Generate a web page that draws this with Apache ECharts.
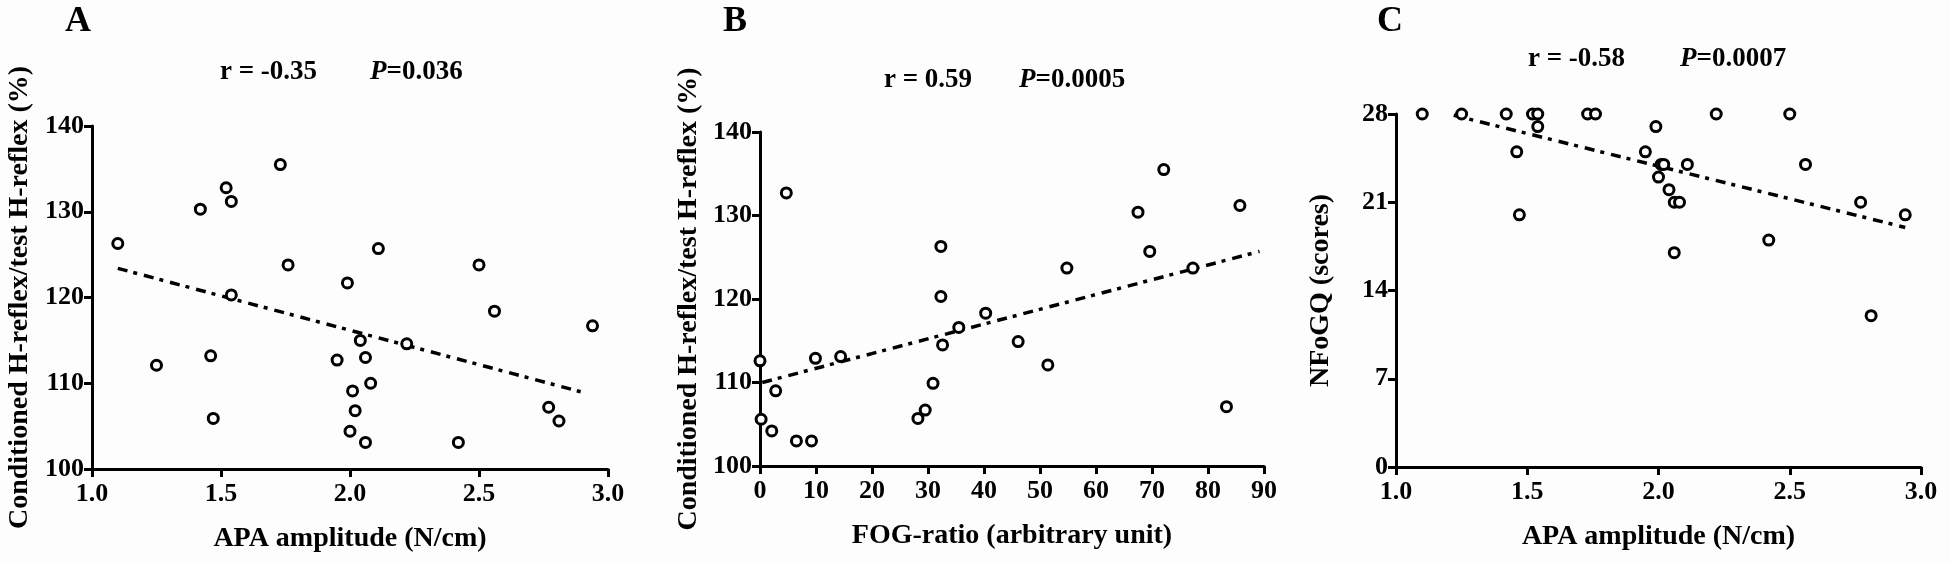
<!DOCTYPE html>
<html>
<head>
<meta charset="utf-8">
<script src="https://cdn.jsdelivr.net/npm/echarts@6/dist/echarts.min.js"></script>
<style>
  html, body { margin: 0; padding: 0; background: #fdfdfd; }
  #main { width: 1950px; height: 564px; }
</style>
</head>
<body>
<div id="main"></div>
<script>
// panel A: APA amplitude vs conditioned H-reflex
var apaA = [1.10, 1.25, 1.42, 1.46, 1.47, 1.52, 1.54, 1.54, 1.73, 1.76, 1.95, 1.99, 2.00, 2.01, 2.02, 2.04, 2.06, 2.06, 2.08, 2.11, 2.22, 2.42, 2.50, 2.56, 2.77, 2.81, 2.94];
var hrefA = [126.3, 112.1, 130.3, 113.2, 105.9, 132.8, 131.2, 120.3, 135.5, 123.8, 112.7, 121.7, 104.4, 109.1, 106.8, 115.0, 113.0, 103.1, 110.0, 125.7, 114.6, 103.1, 123.8, 118.4, 107.2, 105.6, 116.7];
var trendA = [[1.10, 123.4], [2.92, 108.8]];

// panel B: FOG-ratio vs conditioned H-reflex
var fogB = [0, 0.2, 2.1, 2.8, 4.7, 6.5, 9.2, 9.9, 14.4, 28.2, 29.5, 30.9, 32.3, 32.3, 32.6, 35.5, 40.3, 46.1, 51.4, 54.8, 67.5, 69.6, 72.1, 77.3, 83.3, 85.7];
var hrefB = [112.6, 105.6, 104.2, 109.0, 132.7, 103.0, 103.0, 112.9, 113.1, 105.7, 106.7, 109.9, 126.3, 120.3, 114.5, 116.6, 118.3, 114.9, 112.1, 123.7, 130.4, 125.7, 135.5, 123.7, 107.1, 131.2];
var trendB = [[0.4, 110.0], [89.2, 125.7]];

// panel C: APA amplitude vs NFoGQ
var apaC = [1.10, 1.25, 1.42, 1.52, 1.54, 1.54, 1.46, 1.47, 1.73, 1.76, 1.99, 1.95, 2.01, 2.02, 2.00, 2.11, 2.04, 2.06, 2.08, 2.06, 2.22, 2.42, 2.50, 2.56, 2.77, 2.81, 2.94];
var nfogC = [28, 28, 28, 28, 28, 27, 25, 20, 28, 28, 27, 25, 24, 24, 23, 24, 22, 21, 21, 17, 28, 18, 28, 24, 21, 12, 20];
var trendC = [[1.22, 27.9], [2.94, 19.0]];

var FONT = '"Liberation Serif", "Times New Roman", serif';

function zip(xs, ys) {
  var out = [];
  for (var i = 0; i < xs.length; i++) out.push([xs[i], ys[i]]);
  return out;
}

function xAxisOf(idx, min, max, interval, name, decimals) {
  return {
    gridIndex: idx, type: 'value', min: min, max: max, interval: interval,
    name: name, nameLocation: 'middle', nameGap: 56,
    nameTextStyle: { color: '#000', fontFamily: FONT, fontWeight: 'bold', fontSize: 28 },
    axisLine: { onZero: false, lineStyle: { color: '#000', width: 3 } },
    axisTick: { length: 8, lineStyle: { color: '#000', width: 3 } },
    axisLabel: {
      color: '#000', fontFamily: FONT, fontWeight: 'bold', fontSize: 26, margin: 12,
      formatter: function (v) { return v.toFixed(decimals); }
    },
    splitLine: { show: false }
  };
}

function yAxisOf(idx, min, max, interval, name, gap) {
  return {
    gridIndex: idx, type: 'value', min: min, max: max, interval: interval,
    name: name, nameLocation: 'middle', nameGap: gap,
    nameTextStyle: { color: '#000', fontFamily: FONT, fontWeight: 'bold', fontSize: 28 },
    axisLine: { show: true, onZero: false, lineStyle: { color: '#000', width: 3 } },
    axisTick: { show: true, length: 8, lineStyle: { color: '#000', width: 3 } },
    axisLabel: { color: '#000', fontFamily: FONT, fontWeight: 'bold', fontSize: 26, margin: 8 },
    splitLine: { show: false }
  };
}

function scatterOf(idx, pts) {
  return {
    type: 'scatter', xAxisIndex: idx, yAxisIndex: idx, data: pts,
    symbol: 'circle', symbolSize: 10, z: 3,
    itemStyle: { color: '#fdfdfd', borderColor: '#000', borderWidth: 3, opacity: 1 }
  };
}

function trendOf(idx, pts) {
  return {
    type: 'line', xAxisIndex: idx, yAxisIndex: idx, data: pts,
    showSymbol: false, z: 2, silent: true,
    lineStyle: { color: '#000', width: 3.5, type: [10, 6, 4, 7] }
  };
}

function statText(x, y, txt) {
  return {
    type: 'text', x: x, y: y,
    style: {
      text: txt, fill: '#000', font: 'bold 27px ' + FONT,
      verticalAlign: 'middle',
      rich: { i: { fontStyle: 'italic', fontWeight: 'bold', fontSize: 27, fontFamily: FONT, fill: '#000' } }
    }
  };
}

function letter(x, y, txt) {
  return {
    type: 'text', x: x, y: y,
    style: { text: txt, fill: '#000', font: 'bold 36px ' + FONT, align: 'center', verticalAlign: 'middle' }
  };
}

var option = {
  backgroundColor: '#fdfdfd',
  animation: false,
  grid: [
    { left: 92, top: 126, width: 516, height: 343 },
    { left: 760, top: 132, width: 504, height: 334 },
    { left: 1396, top: 114, width: 525, height: 353 }
  ],
  xAxis: [
    xAxisOf(0, 1, 3, 0.5, 'APA amplitude (N/cm)', 1),
    xAxisOf(1, 0, 90, 10, 'FOG-ratio (arbitrary unit)', 0),
    xAxisOf(2, 1, 3, 0.5, 'APA amplitude (N/cm)', 1)
  ],
  yAxis: [
    yAxisOf(0, 100, 140, 10, 'Conditioned H-reflex/test H-reflex (%)', 58),
    yAxisOf(1, 100, 140, 10, 'Conditioned H-reflex/test H-reflex (%)', 57),
    yAxisOf(2, 0, 28, 7, 'NFoGQ (scores)', 61)
  ],
  series: [
    trendOf(0, trendA), scatterOf(0, zip(apaA, hrefA)),
    trendOf(1, trendB), scatterOf(1, zip(fogB, hrefB)),
    trendOf(2, trendC), scatterOf(2, zip(apaC, nfogC))
  ],
  graphic: [
    letter(78, 22, 'A'), letter(735, 22, 'B'), letter(1390, 22, 'C'),
    statText(220, 72, 'r = -0.35'), statText(370, 72, '{i|P}=0.036'),
    statText(884, 80, 'r = 0.59'), statText(1019, 80, '{i|P}=0.0005'),
    statText(1528, 59, 'r = -0.58'), statText(1680, 59, '{i|P}=0.0007')
  ]
};

var myChart = echarts.init(document.getElementById('main'));
myChart.setOption(option);
</script>
</body>
</html>
